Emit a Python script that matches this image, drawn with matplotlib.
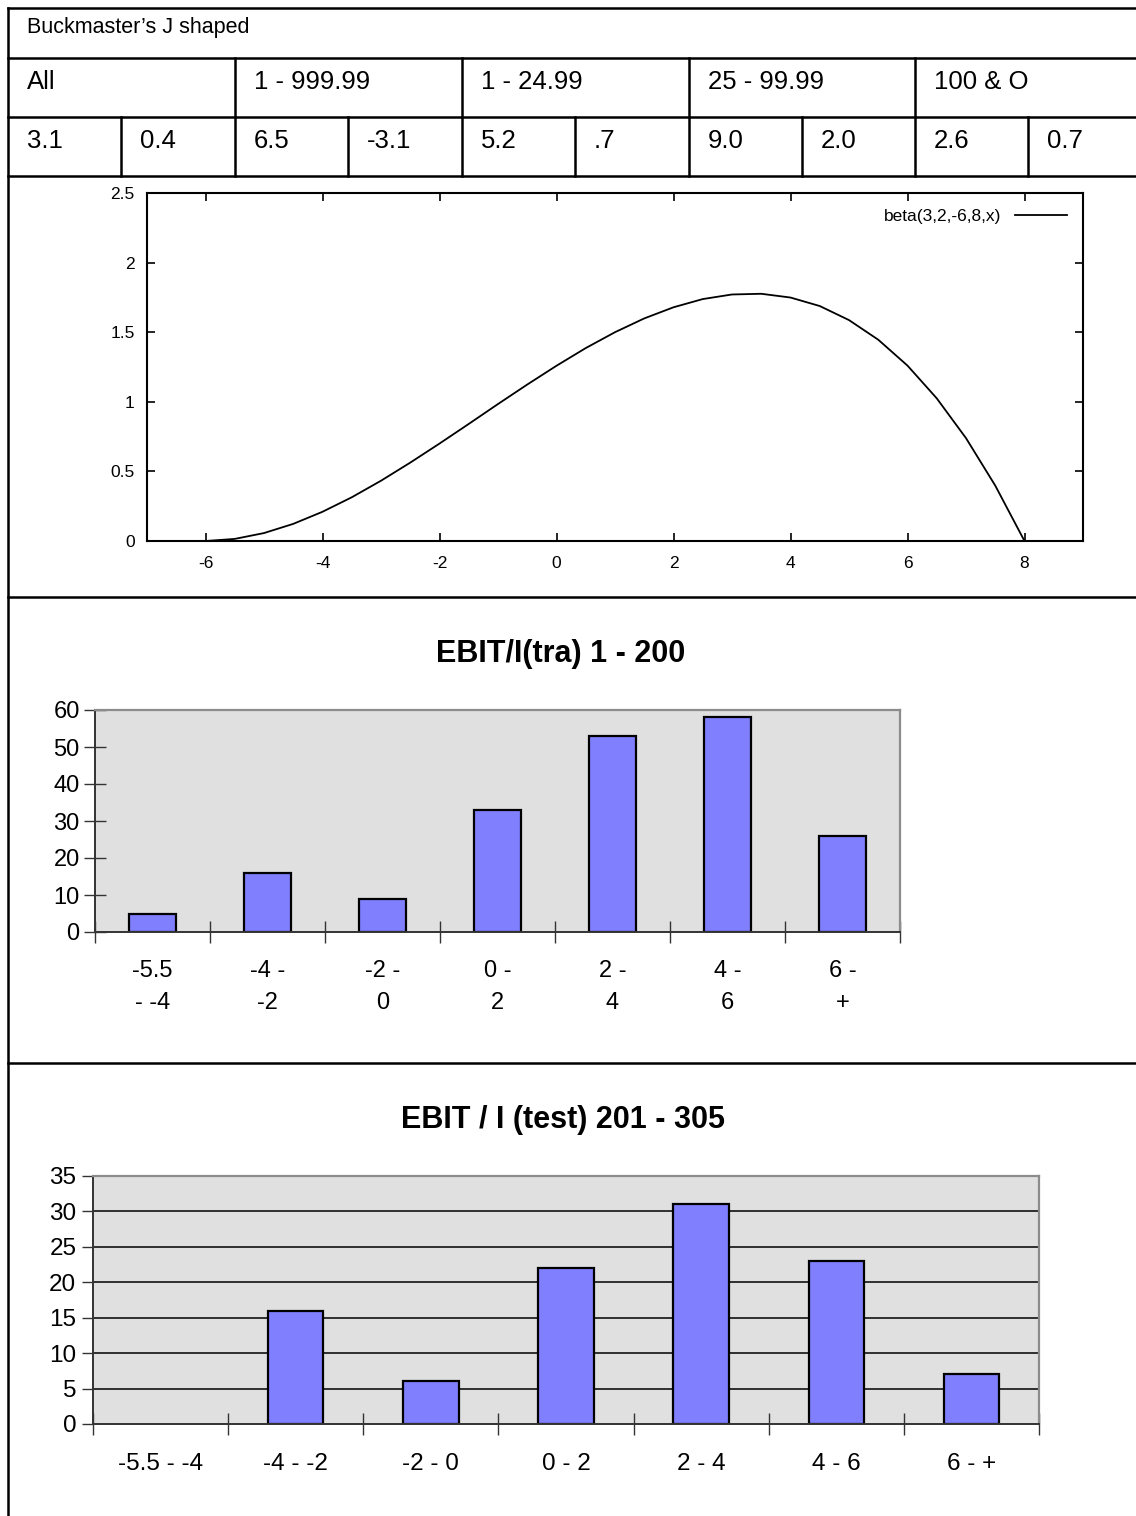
import matplotlib
matplotlib.use("Agg")
import matplotlib.pyplot as plt
from matplotlib.lines import Line2D

plt.rcParams['font.family'] = ['Liberation Sans', 'DejaVu Sans']
plt.rcParams['axes.unicode_minus'] = False

# ---- data ----
table_title = "Buckmaster\u2019s J shaped"
group_labels = ["All", "1 - 999.99", "1 - 24.99", "25 - 99.99", "100 & O"]
group_values = ["3.1", "0.4", "6.5", "-3.1", "5.2", ".7", "9.0", "2.0", "2.6", "0.7"]

# beta(3,2,-6,8,x) curve
beta_x = [-7.0, -6.0, -5.5, -5.0, -4.5, -4.0, -3.5, -3.0, -2.5, -2.0, -1.5, -1.0, -0.5,
          0.0, 0.5, 1.0, 1.5, 2.0, 2.5, 3.0, 3.5, 4.0, 4.5, 5.0, 5.5, 6.0, 6.5, 7.0,
          7.5, 8.0, 9.0]
beta_y = [0.0, 0.0, 0.015, 0.057, 0.123, 0.21, 0.314, 0.433, 0.563, 0.70, 0.841, 0.984,
          1.124, 1.259, 1.386, 1.50, 1.599, 1.679, 1.738, 1.771, 1.776, 1.749, 1.688,
          1.587, 1.446, 1.26, 1.025, 0.739, 0.398, 0.0, 0.0]
legend_label = "beta(3,2,-6,8,x)"

bins_tra = ["-5.5\n- -4", "-4 -\n-2", "-2 -\n0", "0 -\n2", "2 -\n4", "4 -\n6", "6 -\n+"]
counts_tra = [5, 16, 9, 33, 53, 58, 26]
title_tra = "EBIT/I(tra) 1 - 200"

bins_test = ["-5.5 - -4", "-4 - -2", "-2 - 0", "0 - 2", "2 - 4", "4 - 6", "6 - +"]
counts_test = [0, 16, 6, 22, 31, 23, 7]
title_test = "EBIT / I (test) 201 - 305"

W, H = 1136, 1516
fig = plt.figure(figsize=(W / 100, H / 100), dpi=100)


def box(l, t, r, b):
    return [l / W, 1 - b / H, (r - l) / W, (b - t) / H]


def line(x0, y0, x1, y1, lw=1.8):
    fig.add_artist(Line2D([x0 / W, x1 / W], [1 - y0 / H, 1 - y1 / H],
                          transform=fig.transFigure, color='black', lw=lw))


def ftext(x, y, s, **kw):
    fig.text(x / W, 1 - y / H, s, **kw)


# ---- table frame ----
for y in [8, 58, 117, 176, 597, 1063]:
    line(8, y, W + 5, y)
line(8, 8, 8, H + 5)
col_edges = [8, 235, 462, 689, 915]
for x in col_edges[1:]:
    line(x, 58, x, 176)
for x in [121, 348, 575, 802, 1028]:
    line(x, 117, x, 176)

ftext(27, 28, table_title, fontsize=15.5, va='center')
for i, lab in enumerate(group_labels):
    ftext(col_edges[i] + 19, 82, lab, fontsize=18.5, va='center')
half = [8, 121, 235, 348, 462, 575, 689, 802, 915, 1028]
for i, v in enumerate(group_values):
    ftext(half[i] + 19, 141, v, fontsize=18.5, va='center')

# ---- gnuplot style curve ----
ax = fig.add_axes(box(147, 193, 1083, 541))
ax.plot(beta_x, beta_y, color='black', lw=1.3, label=legend_label)
ax.set_xlim(-7, 9)
ax.set_ylim(0, 2.5)
ax.set_xticks([-6, -4, -2, 0, 2, 4, 6, 8])
ax.set_yticks([0, 0.5, 1, 1.5, 2, 2.5])
ax.set_yticklabels(['0', '0.5', '1', '1.5', '2', '2.5'])
ax.tick_params(direction='in', length=6, width=1.2, top=True, right=True,
               labelsize=12.5, pad=9)
ax.tick_params(axis='x', pad=11)
for sp in ax.spines.values():
    sp.set_linewidth(1.5)
ax.legend(loc='upper right', frameon=False, markerfirst=False, fontsize=12.5,
          handlelength=3.0, borderaxespad=0.5)


# ---- bar charts ----
def bar_chart(rect, labels, counts, title, title_xy, ymax, ystep, grid, lab_size,
              xpad, ytick_dir):
    a = fig.add_axes(rect)
    a.set_facecolor('#e0e0e0')
    xs = range(len(counts))
    if grid:
        for g in range(ystep, ymax, ystep):
            a.axhline(g, color='black', lw=1.1, zorder=1)
    widths = [1.6 if c > 0 else 0 for c in counts]
    a.bar(xs, counts, width=0.41, color='#8080ff', edgecolor='black', lw=widths, zorder=2)
    a.set_xlim(-0.5, len(counts) - 0.5)
    a.set_ylim(0, ymax)
    a.set_yticks(range(0, ymax + 1, ystep))
    a.set_xticks([i - 0.5 for i in range(len(counts) + 1)])
    a.set_xticklabels([])
    a.set_xticks(list(xs), minor=True)
    a.set_xticklabels(labels, minor=True, fontsize=lab_size, linespacing=1.6)
    a.tick_params(axis='x', which='major', direction='inout', length=16, width=1, color='#333333')
    a.tick_params(axis='x', which='minor', length=0, pad=xpad)
    if ytick_dir == 'inout':
        a.tick_params(axis='y', direction='inout', length=16, width=1, color='#333333',
                      labelsize=lab_size, pad=3)
    else:
        a.tick_params(axis='y', direction='out', length=8, width=1, color='#333333',
                      labelsize=lab_size, pad=4)
    for s in ['left', 'bottom']:
        a.spines[s].set_color('#333333')
        a.spines[s].set_linewidth(1.4)
    for s in ['top', 'right']:
        a.spines[s].set_color('#8c8c8c')
        a.spines[s].set_linewidth(1.6)
    ftext(title_xy[0], title_xy[1], title, fontsize=22, fontweight='bold',
          ha='center', va='center')
    return a


bar_chart(box(95, 710, 900, 932), bins_tra, counts_tra, title_tra, (561, 654),
          60, 10, False, 17, 20, 'inout')
bar_chart(box(93, 1176, 1039, 1424), bins_test, counts_test, title_test, (563, 1120),
          35, 5, True, 17.5, 21, 'out')

fig.savefig("out.png", dpi=100)
